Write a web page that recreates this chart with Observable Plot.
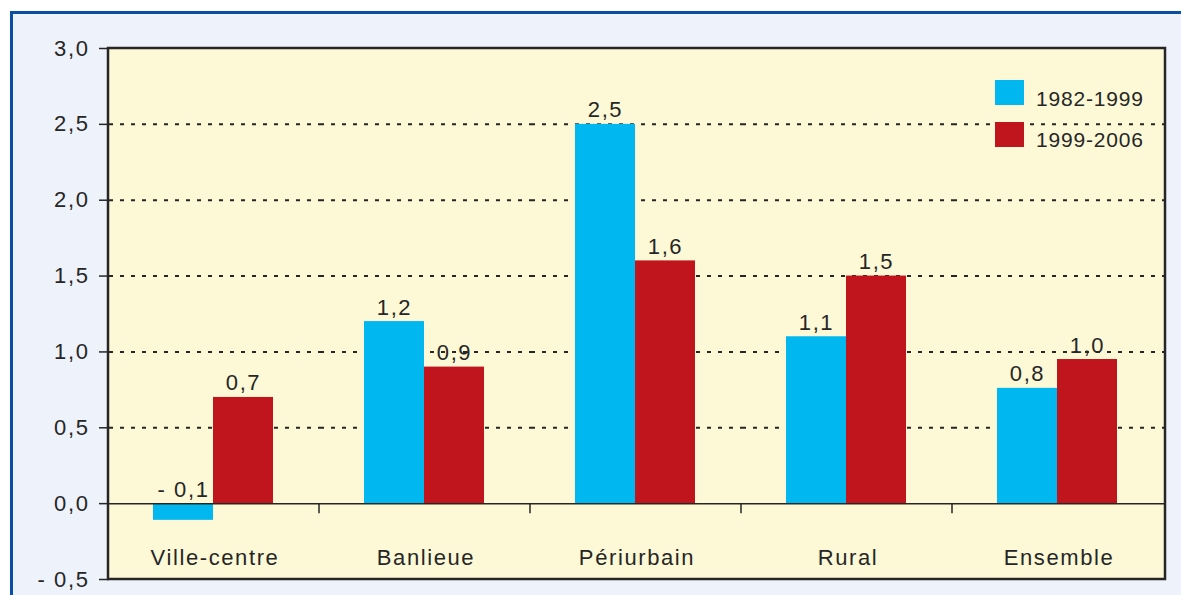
<!DOCTYPE html>
<html>
<head>
<meta charset="utf-8">
<script src="https://cdn.jsdelivr.net/npm/d3@7"></script>
<script src="https://cdn.jsdelivr.net/npm/@observablehq/plot@0.6"></script>
<style>
  html, body { margin: 0; padding: 0; background: #ffffff; width: 1181px; height: 595px; overflow: hidden; }
  #panel { position: absolute; left: 10px; top: 11px; width: 1200px; height: 620px; background: #eef2fa;
           border-left: 3px solid #0c4ea2; border-top: 3px solid #0c4ea2; }
  #chart { position: absolute; left: 0; top: 0; }
</style>
</head>
<body>
<div id="panel"></div>
<div id="chart"></div>
<script>
const categories = ["Ville-centre", "Banlieue", "Périurbain", "Rural", "Ensemble"];
const series = ["1982-1999", "1999-2006"];
const values1982 = [-0.11, 1.2, 2.5, 1.1, 0.76];
const values1999 = [0.7, 0.9, 1.6, 1.5, 0.95];
const labels1982 = ["- 0,1", "1,2", "2,5", "1,1", "0,8"];
const labels1999 = ["0,7", "0,9", "1,6", "1,5", "1,0"];
const yTicks = [-0.5, 0, 0.5, 1, 1.5, 2, 2.5, 3];
const gridTicks = [0.5, 1, 1.5, 2, 2.5];
const colors = ["#00b8ef", "#c1151d"];

const rows = [];
categories.forEach((c, i) => {
  rows.push({cat: c, series: series[0], value: values1982[i], label: labels1982[i]});
  rows.push({cat: c, series: series[1], value: values1999[i], label: labels1999[i]});
});

const fmt = d => (d < 0 ? "- " : "") + Math.abs(d).toFixed(1).replace(".", ",");
const ink = "#262626";
const font = "'Liberation Sans', Arial, Helvetica, sans-serif";
const fs = 22;

const plot = Plot.plot({
  width: 1181,
  height: 595,
  marginLeft: 108,
  marginRight: 16,
  marginTop: 48,
  marginBottom: 16,
  style: {background: "transparent", fontFamily: font, fontSize: "22px", color: ink, letterSpacing: "1.6px", overflow: "visible"},
  fx: {domain: categories, padding: 0, axis: null, label: null},
  x: {domain: series, paddingInner: 0, paddingOuter: 0.75, align: 0.48, axis: null},
  y: {domain: [-0.5, 3], axis: null},
  color: {domain: series, range: colors},
  marks: [
    Plot.ruleY(gridTicks, {stroke: ink, strokeWidth: 2, strokeDasharray: "4,7"}),
    Plot.barY(rows, {fx: "cat", x: "series", y: "value", fill: "series"}),
    Plot.ruleY([0], {stroke: ink, strokeWidth: 1.5}),
    Plot.text(rows, {fx: "cat", x: "series", y: d => Math.max(0, d.value), text: "label",
                     dy: -7, lineAnchor: "bottom", fill: ink, fontSize: fs}),
    Plot.text(categories, {fx: d => d, text: d => d, frameAnchor: "bottom", lineAnchor: "bottom",
                           dy: -15, fill: ink, fontSize: fs}),
    Plot.axisY({ticks: yTicks, tickFormat: fmt, tickSize: 10, tickPadding: 10, strokeWidth: 1.5,
                stroke: ink, fill: ink, label: null, fontSize: fs})
  ]
});

document.getElementById("chart").appendChild(plot);

// plot-area background, frame, group boundary ticks and legend, positioned from Plot's scales
const svgSel = d3.select(plot);
const fxScale = plot.scale("fx");
const yScale = plot.scale("y");
const areaLeft = fxScale.range[0], areaRight = fxScale.range[1];
const areaTop = yScale.apply(3), areaBottom = yScale.apply(-0.5), zeroY = yScale.apply(0);

svgSel.insert("rect", ":first-child")
  .attr("x", areaLeft).attr("y", areaTop)
  .attr("width", areaRight - areaLeft).attr("height", areaBottom - areaTop)
  .attr("fill", "#fdf9d6");

const deco = svgSel.append("g");
deco.append("rect")
  .attr("x", areaLeft).attr("y", areaTop)
  .attr("width", areaRight - areaLeft).attr("height", areaBottom - areaTop)
  .attr("fill", "none").attr("stroke", ink).attr("stroke-width", 2.5);

categories.slice(1).forEach(c => {
  const bx = fxScale.apply(c) - 1;
  deco.append("line").attr("x1", bx).attr("x2", bx).attr("y1", zeroY).attr("y2", zeroY + 10)
    .attr("stroke", ink).attr("stroke-width", 1.5);
});

const legendG = svgSel.append("g").attr("text-anchor", "start");
series.forEach((s, i) => {
  legendG.append("rect").attr("x", 995).attr("y", 80 + i * 42).attr("width", 29).attr("height", 25)
    .attr("fill", colors[i]);
  legendG.append("text").attr("x", 1036).attr("y", 105.5 + i * 41).attr("fill", ink)
    .attr("font-family", font).attr("font-size", 21).attr("letter-spacing", "0.8px").text(s);
});
</script>
</body>
</html>
